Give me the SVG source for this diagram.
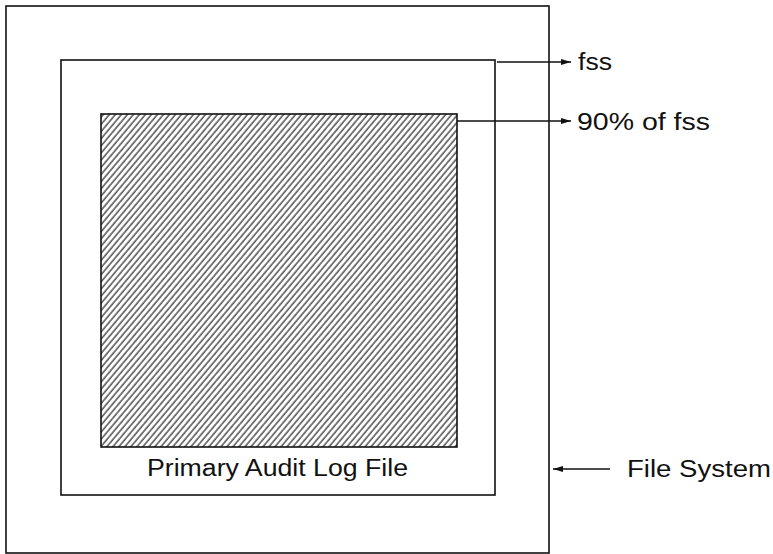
<svg xmlns="http://www.w3.org/2000/svg" width="773" height="554" viewBox="0 0 773 554">
<style>
.box{fill:none;stroke:#111;stroke-width:1.6}
.con{stroke:#111;stroke-width:1.4;fill:none;marker-end:url(#ah)}
.lbl{font-family:"Liberation Sans",Arial,sans-serif;font-size:23px;fill:#111}
</style>
<defs>
<marker id="ah" viewBox="0 0 10 6" refX="10" refY="3" markerWidth="10" markerHeight="6" markerUnits="userSpaceOnUse" orient="auto">
<path d="M0,0 L10,3 L0,6 Z" fill="#111"/>
</marker>
<pattern id="hatch" patternUnits="userSpaceOnUse" width="4.6" height="4.6" patternTransform="rotate(40)">
<line x1="1" y1="-1" x2="1" y2="6" stroke="#111" stroke-width="1.1"/>
</pattern>
</defs>
<rect width="773" height="554" fill="#fff"/>
<g id="filesystem">
<rect class="box" x="6" y="6" width="543" height="547"/>
</g>
<g id="fss">
<rect class="box" x="61" y="60" width="434" height="435"/>
</g>
<g id="primary">
<rect x="101" y="114" width="356" height="333" fill="url(#hatch)" stroke="#111" stroke-width="1.6"/>
<text class="lbl" x="147" y="476" textLength="261" lengthAdjust="spacingAndGlyphs">Primary Audit Log File</text>
</g>
<g id="connectors">
<line class="con" x1="497" y1="62" x2="571" y2="62"/>
<line class="con" x1="457" y1="121" x2="571" y2="121"/>
<line class="con" x1="610" y1="469" x2="553" y2="469"/>
</g>
<g id="labels">
<text class="lbl" x="578" y="70" textLength="34" lengthAdjust="spacingAndGlyphs">fss</text>
<text class="lbl" x="577" y="130" textLength="133" lengthAdjust="spacingAndGlyphs">90% of fss</text>
<text class="lbl" x="627" y="477" textLength="144" lengthAdjust="spacingAndGlyphs">File System</text>
</g>
</svg>
